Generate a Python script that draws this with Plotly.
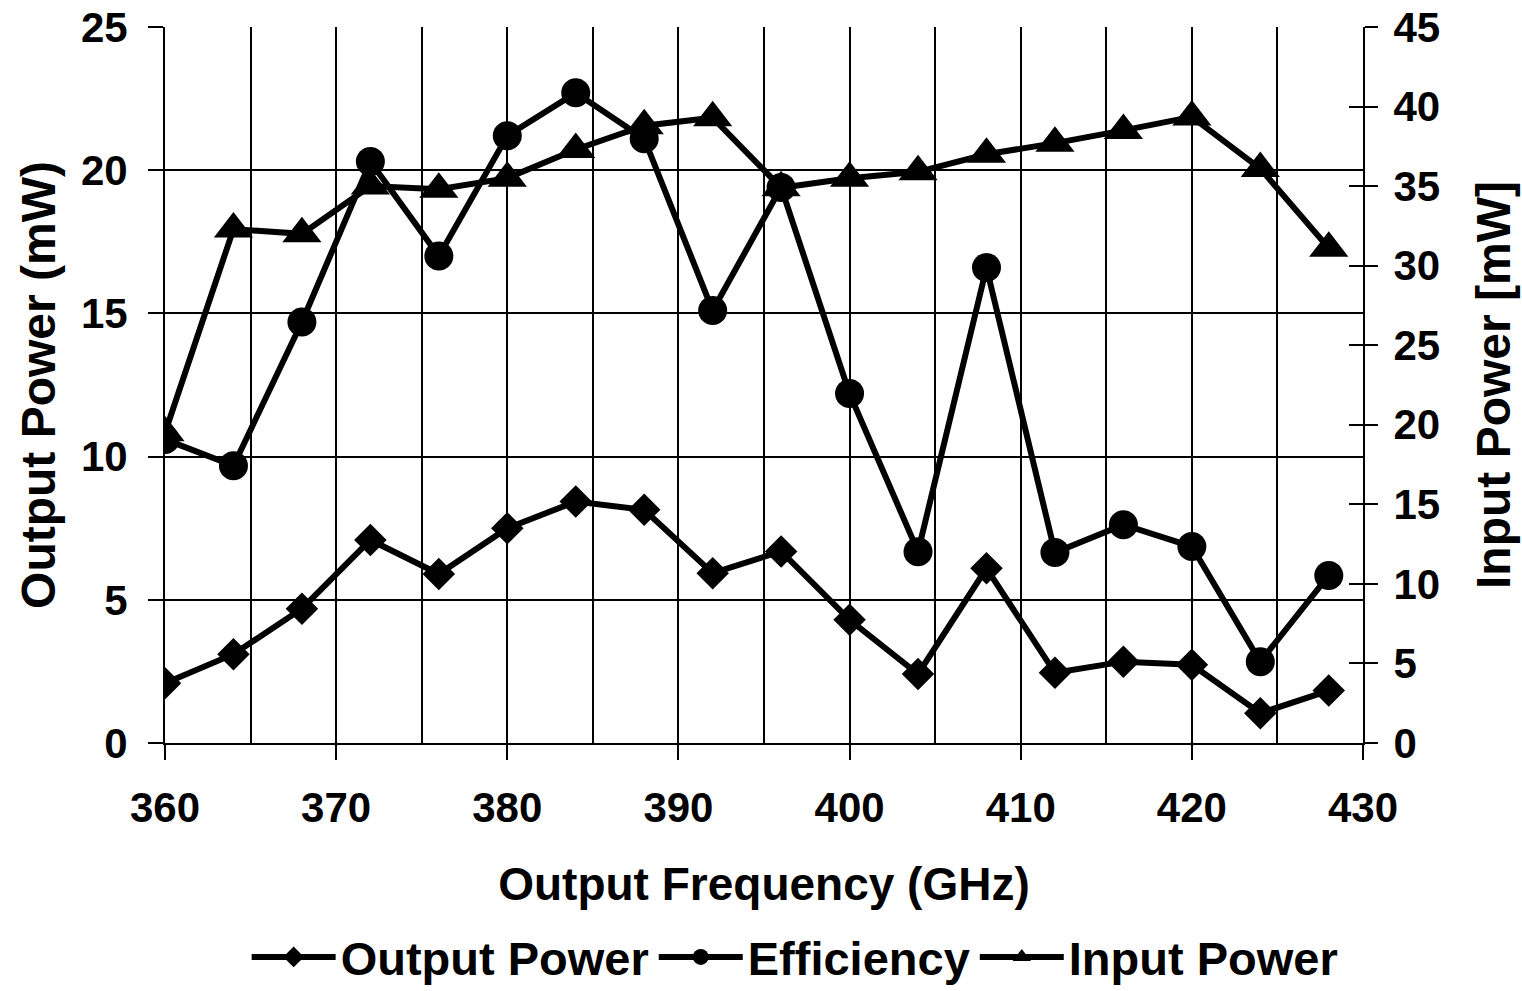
import plotly.graph_objects as go

freq = [360, 364, 368, 372, 376, 380, 384, 388, 392, 396, 400, 404, 408, 412, 416, 420, 424, 428]
output_power = [2.09, 3.10, 4.69, 7.09, 5.90, 7.50, 8.43, 8.14, 5.93, 6.69, 4.30, 2.41, 6.10, 2.45, 2.84, 2.73, 1.04, 1.83]
efficiency = [10.6, 9.68, 14.7, 20.3, 17.0, 21.2, 22.7, 21.1, 15.1, 19.4, 12.2, 6.68, 16.6, 6.65, 7.62, 6.86, 2.84, 5.85]
input_power = [19.5, 32.3, 32.0, 35.0, 34.8, 35.5, 37.3, 38.8, 39.3, 34.9, 35.5, 35.9, 37.0, 37.7, 38.5, 39.35, 36.1, 31.1]

FONT = "Liberation Sans, Arial, sans-serif"
BLACK = "#000000"
LW = 6

fig = go.Figure()
fig.add_trace(go.Scatter(x=freq, y=output_power, name="Output Power", mode="lines+markers",
                         line=dict(color=BLACK, width=LW),
                         marker=dict(symbol="diamond", size=25, color=BLACK)))
fig.add_trace(go.Scatter(x=freq, y=efficiency, name="Efficiency", mode="lines+markers",
                         line=dict(color=BLACK, width=LW),
                         marker=dict(symbol="circle", size=29, color=BLACK)))
fig.add_trace(go.Scatter(x=freq, y=input_power, name="Input Power", mode="lines+markers",
                         yaxis="y2",
                         line=dict(color=BLACK, width=LW),
                         marker=dict(symbol="triangle-up", size=34, color=BLACK)))
# helper trace so the crossing (inside) ticks of the right axis are drawn
fig.add_trace(go.Scatter(x=freq, y=input_power, yaxis="y3", mode="lines",
                         line=dict(color="rgba(0,0,0,0)", width=0),
                         showlegend=False, hoverinfo="skip"))

fig.update_layout(
    width=1522, height=991,
    margin=dict(l=165, r=159, t=27, b=248, autoexpand=False),
    paper_bgcolor="white", plot_bgcolor="white",
    font=dict(family=FONT, color=BLACK),
    showlegend=True,
    legend=dict(orientation="h", x=0.526, xanchor="center", y=-0.247, yanchor="top",
                font=dict(size=47, family=FONT, weight="bold"), itemwidth=84,
                bgcolor="rgba(0,0,0,0)", tracegroupgap=0),
    xaxis=dict(range=[360, 430], dtick=10, tick0=360, automargin=False,
               showgrid=True, gridcolor=BLACK, gridwidth=2,
               minor=dict(dtick=5, showgrid=True, gridcolor=BLACK, gridwidth=2, ticks=""),
               showline=True, linecolor=BLACK, linewidth=2,
               ticks="outside", ticklen=15, tickwidth=2, tickcolor=BLACK,
               ticklabelstandoff=12,
               tickfont=dict(size=42, family=FONT, weight="bold"),
               title=dict(text="Output Frequency (GHz)", font=dict(size=46, family=FONT, weight="bold"),
                          standoff=37),
               zeroline=False),
    yaxis=dict(range=[0, 25], dtick=5, tick0=0, automargin=False,
               showgrid=True, gridcolor=BLACK, gridwidth=2,
               showline=True, linecolor=BLACK, linewidth=2,
               ticks="outside", ticklen=15, tickwidth=2, tickcolor=BLACK,
               ticklabelstandoff=12,
               tickfont=dict(size=42, family=FONT, weight="bold"),
               title=dict(text="Output Power (mW)", font=dict(size=48, family=FONT, weight="bold"),
                          standoff=10),
               zeroline=False),
    yaxis2=dict(range=[0, 45], dtick=5, tick0=0, overlaying="y", side="right", automargin=False,
                showgrid=False, showline=True, linecolor=BLACK, linewidth=2,
                ticks="outside", ticklen=13, tickwidth=2, tickcolor=BLACK,
                ticklabelstandoff=7,
                tickfont=dict(size=42, family=FONT, weight="bold"),
                title=dict(text="Input Power [mW]", font=dict(size=48, family=FONT, weight="bold"),
                           standoff=37),
                zeroline=False),
    yaxis3=dict(range=[0, 45], dtick=5, tick0=0, overlaying="y", side="right", anchor="x",
                automargin=False, showgrid=False, showline=False,
                ticks="inside", ticklen=14, tickwidth=2, tickcolor=BLACK,
                showticklabels=False, zeroline=False),
)

fig.write_html("out.html")
